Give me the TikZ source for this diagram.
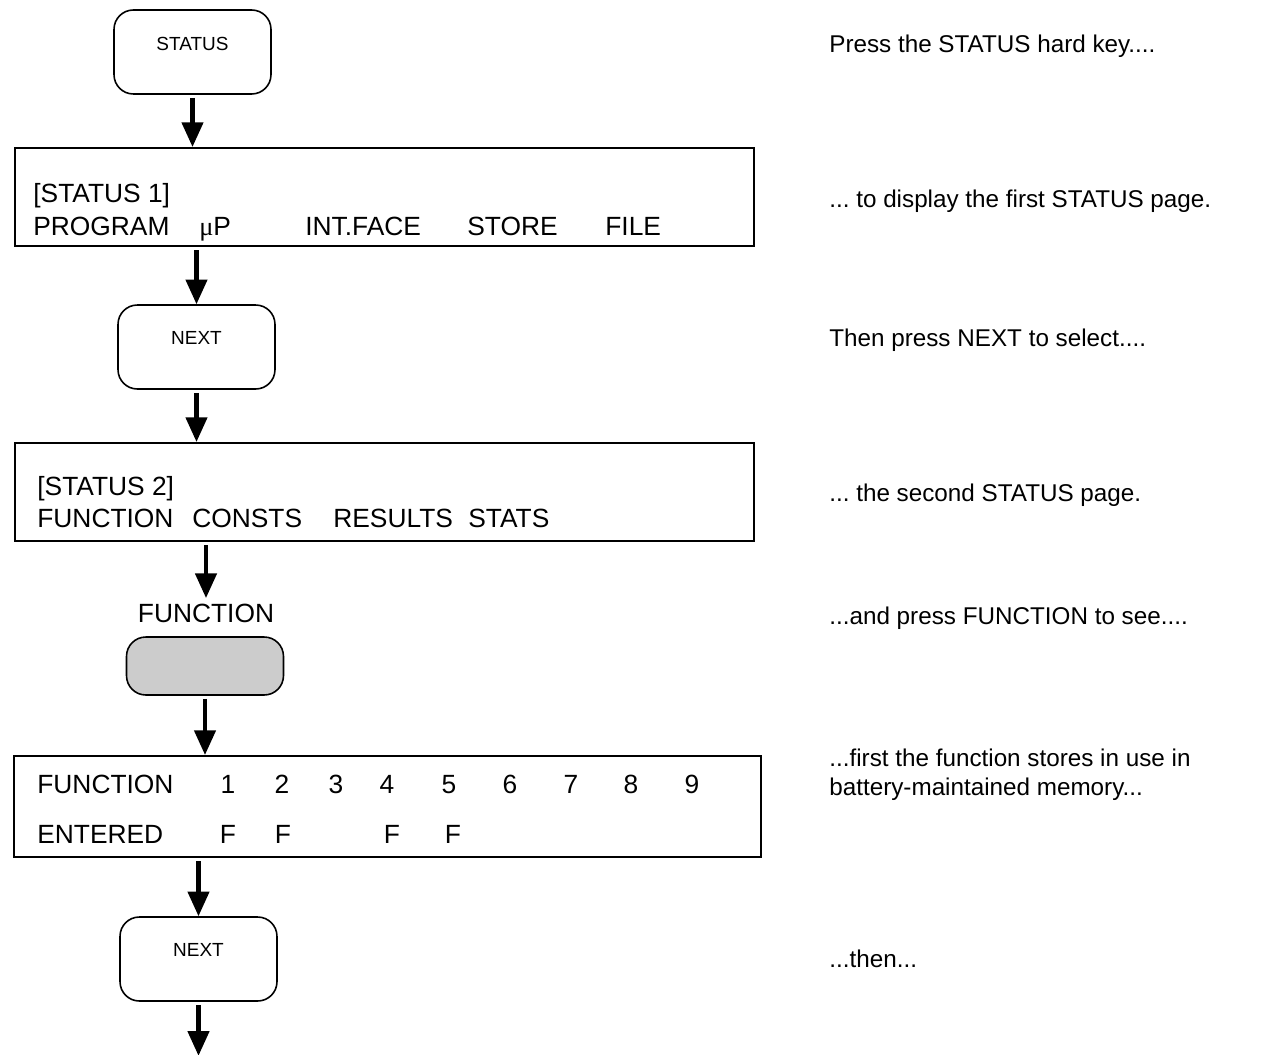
\documentclass[tikz,border=0pt]{standalone}
\usepackage{fontspec}
\setmainfont{Liberation Sans}
\newfontfamily\mufont{Liberation Serif}
\usepackage{xcolor}
\usepackage{tikz}
\usetikzlibrary{positioning, calc, arrows.meta}
\definecolor{ink}{HTML}{000000}
\definecolor{keygrey}{HTML}{CCCCCC}
\frenchspacing

\begin{document}
\begin{tikzpicture}[x=0.02cm, y=-0.02cm,
  hkey/.style={draw=ink, line width=0.9pt, rounded corners=11pt,
               minimum width=3.14cm, minimum height=1.68cm, inner sep=0pt},
  klbl/.style={font=\fontsize{10.8}{12}\selectfont, inner sep=0pt},
  disp/.style={draw=ink, line width=1.2pt, minimum width=#1, minimum height=1.96cm, inner sep=0pt},
  dtxt/.style={font=\fontsize{15}{18}\selectfont, anchor=base west, inner sep=0pt},
  dnum/.style={font=\fontsize{15}{18}\selectfont, anchor=base, inner sep=0pt},
  note/.style={font=\fontsize{13.8}{16.4}\selectfont, anchor=base west, inner sep=0pt, align=left},
  arr/.style={line width=2.3pt, -{Triangle[length=14pt, width=12pt]}, shorten <=1.7pt}
]
  \useasboundingbox (0,0) rectangle (1266,1054);

  \node[hkey] (k1) at (192.5,52) {};
  \node[klbl] at ([yshift=4.5pt]k1.center) {STATUS};

  \node[disp=14.78cm] (d1) at (384.5,197) {};
  \node[dtxt] (d1a) at (33,202) {[STATUS 1]};
  \node[dtxt] (d1b) at (33,235) {PROGRAM};
  \node[dtxt] (d1c) at (199,235) {{\mufont μ}P};
  \node[dtxt] (d1d) at (305,235) {INT.FACE};
  \node[dtxt] (d1e) at (467,235) {STORE};
  \node[dtxt] (d1f) at (605,235) {FILE};

  \node[hkey] (k2) at (196.5,347) {};
  \node[klbl] at ([yshift=5pt]k2.center) {NEXT};

  \node[disp=14.78cm] (d2) at (384.5,492) {};
  \node[dtxt] (d2a) at (37,495) {[STATUS 2]};
  \node[dtxt] (d2b) at (37,527) {FUNCTION};
  \node[dtxt] (d2c) at (192,527) {CONSTS};
  \node[dtxt] (d2d) at (333,527) {RESULTS};
  \node[dtxt] (d2e) at (468,527) {STATS};

  \node[font=\fontsize{15}{18}\selectfont, inner sep=0pt] (fnlbl) at (206,613) {FUNCTION};
  \node[hkey, fill=keygrey, minimum height=1.16cm] (fnkey) at (205,666) {};

  \node[disp=14.94cm, minimum height=2.02cm] (d3) at (387.5,806.5) {};
  \node[dtxt] (d3a) at (37,793) {FUNCTION};
  \node[dtxt] (d3b) at (37,843) {ENTERED};
  \foreach \n/\x in {1/228, 2/282, 3/336, 4/387, 5/449, 6/510, 7/571, 8/631, 9/692}
    \node[dnum] (n\n) at (\x,793) {\n};
  \foreach \n/\x in {1/228, 2/283, 4/392, 5/453}
    \node[dnum] (f\n) at (\x,843) {F};

  \node[hkey] (k3) at (198.5,959) {};
  \node[klbl] at ([yshift=5pt]k3.center) {NEXT};
  \coordinate (fin) at (198.5,1054);

  \draw[arr] (k1.south) -- (k1.south |- d1.north);
  \draw[arr] (k2.north |- d1.south) -- (k2.north);
  \draw[arr] (k2.south) -- (k2.south |- d2.north);
  \draw[arr] (fnlbl.north |- d2.south) -- ([yshift=3pt]fnlbl.north);
  \draw[arr] (fnkey.south) -- (fnkey.south |- d3.north);
  \draw[arr] (k3.north |- d3.south) -- (k3.north);
  \draw[arr, shorten >=-1pt] (k3.south) -- (fin);

  \node[note] (t1) at (829,53) {Press the STATUS hard key....};
  \node[note] (t2) at (829,207) {... to display the first STATUS page.};
  \node[note] (t3) at (829,346) {Then press NEXT to select....};
  \node[note] (t4) at (829,501) {... the second STATUS page.};
  \node[note] (t5) at (829,624) {...and press FUNCTION to see....};
  \node[note] (t6) at (829,795) {...first the function stores in use in\\battery-maintained memory...};
  \node[note] (t7) at (829,967) {...then...};
\end{tikzpicture}
\end{document}
